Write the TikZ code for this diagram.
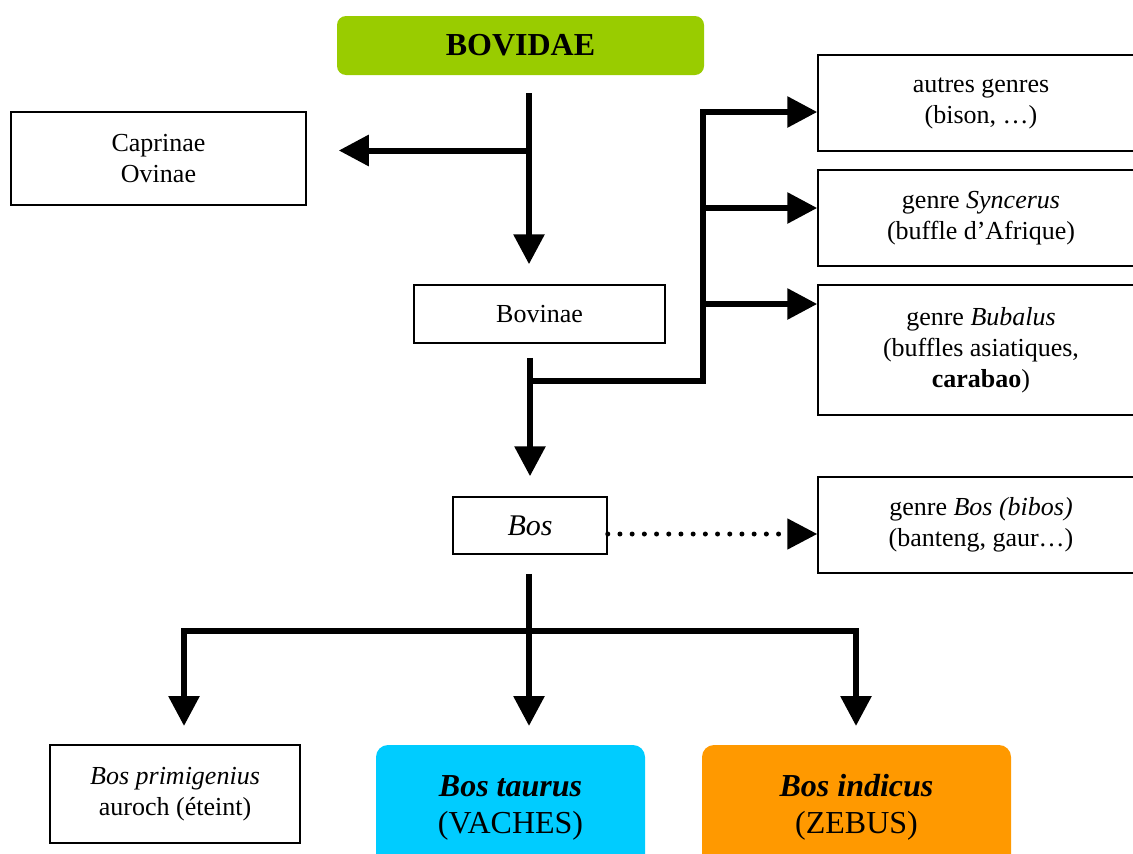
\documentclass[tikz,border=0pt]{standalone}
\usepackage{fontspec}
\setmainfont{Liberation Serif}
\usetikzlibrary{arrows.meta}
\definecolor{famgreen}{HTML}{99CC00}
\definecolor{taurcyan}{HTML}{00CCFF}
\definecolor{indorange}{HTML}{FF9900}
\newcommand{\fsnorm}{\fontsize{26}{31}\selectfont}
\newcommand{\fsbig}{\fontsize{30}{34}\selectfont}
\newcommand{\fshuge}{\fontsize{32}{37}\selectfont}
\begin{document}
\begin{tikzpicture}[x=1pt,y=-1pt,
  box/.style={draw, line width=1.5pt, inner sep=0pt, align=center, font=\fsnorm},
  colbox/.style={inner sep=0pt, align=center, font=\fshuge, rounded corners=12pt},
  arr/.style={line width=6pt, -{Triangle[length=30pt,width=30pt]}},
  dotarr/.style={line width=5pt, line cap=round, dash pattern=on 0pt off 12.2pt,
    -{Triangle[length=30pt,width=30pt]}}]
\useasboundingbox (0,0) rectangle (1133,854);
\clip (0,0) rectangle (1133,854);

% nodes
\node[colbox, fill=famgreen, rounded corners=9pt, minimum width=367pt, minimum height=59pt,
  font=\fontsize{32}{36}\selectfont\bfseries] (bovidae) at (520.5,45.5) {BOVIDAE};
\node[box, minimum width=295pt, minimum height=93pt] (caprinae) at (158.5,158.5) {Caprinae\\Ovinae};
\node[box, minimum width=251pt, minimum height=58pt] (bovinae) at (539.5,314) {Bovinae};
\node[box, minimum width=326pt, minimum height=96pt] (autres) at (981,103) {autres genres\\(bison, …)};
\node[box, minimum width=326pt, minimum height=96pt] (syncerus) at (981,218) {genre \textit{Syncerus}\\(buffle d’Afrique)};
\node[box, minimum width=326pt, minimum height=130pt] (bubalus) at (981,350) {genre \textit{Bubalus}\\(buffles asiatiques,\\\textbf{carabao})};
\node[box, minimum width=154pt, minimum height=57pt, font=\fsbig\itshape] (bos) at (530,525.5) {Bos};
\node[box, minimum width=326pt, minimum height=96pt] (bibos) at (981,525) {genre \textit{Bos (bibos)}\\(banteng, gaur…)};
\node[box, minimum width=250pt, minimum height=98pt] (primigenius) at (175,794) {\textit{Bos primigenius}\\auroch (éteint)};
\node[colbox, fill=taurcyan, minimum width=269pt, minimum height=125pt] (taurus) at (510.5,807.5) {\textbf{\textit{Bos taurus}}\\(VACHES)};
\node[colbox, fill=indorange, minimum width=309pt, minimum height=125pt] (indicus) at (856.5,807.5) {\textbf{\textit{Bos indicus}}\\(ZEBUS)};

% junctions
\coordinate (jcap) at (529,150.5);
\coordinate (jbov) at (530,381);
\coordinate (jr1) at (703,112);
\coordinate (jr2) at (703,208);
\coordinate (jr3) at (703,304);
\coordinate (jbos) at (529,631);
\coordinate (tleft) at (184,726);
\coordinate (tmid) at (529,726);
\coordinate (tright) at (856,726);

% connectors
\draw[arr] ([xshift=8.5pt,yshift=-18pt]bovidae.south) -- ([xshift=-10.5pt,yshift=20pt]bovinae.north);
\draw[arr] (jcap) -- ([xshift=32pt]caprinae.east |- jcap);
\draw[arr] ([xshift=-9.5pt,yshift=-14pt]bovinae.south) -- ([yshift=20pt]bos.north);
\draw[arr] (jbov) -| (jr1) -- (autres.west |- jr1);
\draw[arr] (jr2) -- (syncerus.west |- jr2);
\draw[arr] (jr3) -- (bubalus.west |- jr3);
\draw[dotarr] ([yshift=-8.5pt]bos.east) -- ([yshift=-8.5pt]bos.east -| bibos.west);
\draw[line width=6pt] ([xshift=-1pt,yshift=-19pt]bos.south) -- (jbos);
\draw[arr] (jbos) -- (tmid);
\draw[arr] (jbos) -| (tleft);
\draw[arr] (jbos) -| (tright);
\end{tikzpicture}
\end{document}
